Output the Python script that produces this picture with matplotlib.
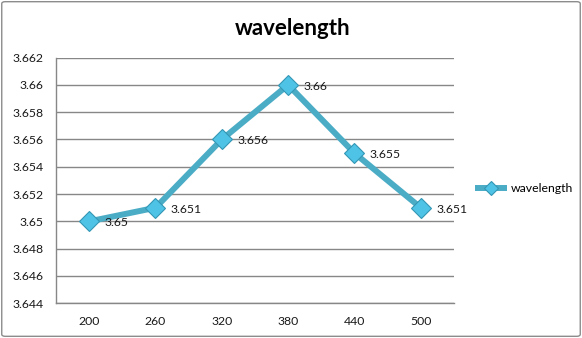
import matplotlib
matplotlib.use("Agg")
import matplotlib.pyplot as plt
from matplotlib.patches import FancyBboxPatch

plt.rcParams['font.family'] = ['Lato', 'DejaVu Sans']

categories = ['200', '260', '320', '380', '440', '500']
wavelength = [3.650, 3.651, 3.656, 3.660, 3.655, 3.651]
value_labels = ['3.65', '3.651', '3.656', '3.66', '3.655', '3.651']
y_ticks = [3.644, 3.646, 3.648, 3.650, 3.652, 3.654, 3.656, 3.658, 3.660, 3.662]
y_tick_labels = ['3.644', '3.646', '3.648', '3.65', '3.652', '3.654',
                 '3.656', '3.658', '3.66', '3.662']

line_color = '#4BACC6'
grid_color = '#878787'

fig = plt.figure(figsize=(5.82, 3.38), dpi=100)
ax = fig.add_axes([0.0962, 0.1027, 0.6838, 0.7269])

x = list(range(len(categories)))
ax.plot(x, wavelength, color=line_color, lw=4.3, solid_capstyle='butt',
        marker='D', ms=10, mfc='#4FC3E6', mec='#3396B4', mew=0.8,
        label='wavelength', zorder=3)

for xi, yi, txt in zip(x, wavelength, value_labels):
    ax.annotate(txt, (xi, yi), xytext=(11, -1), textcoords='offset points',
                ha='left', va='center', fontsize=8.8, color='#1a1a1a')

ax.set_xlim(-0.5, len(categories) - 0.5)
ax.set_ylim(3.644, 3.662)
ax.set_xticks(x)
ax.set_xticklabels(categories)
ax.set_yticks(y_ticks)
ax.set_yticklabels(y_tick_labels)
ax.tick_params(axis='both', length=0, labelsize=8.8, colors='#1a1a1a')
ax.tick_params(axis='y', pad=9)
ax.tick_params(axis='x', pad=9)
ax.grid(axis='y', color=grid_color, lw=1)
ax.set_axisbelow(True)
for side in ['top', 'right']:
    ax.spines[side].set_visible(False)
for side in ['left', 'bottom']:
    ax.spines[side].set_color(grid_color)
    ax.spines[side].set_linewidth(1)

fig.text(0.503, 0.915, 'wavelength', ha='center', va='center',
         fontsize=16, fontweight='bold', color='black')

fig.legend(loc='center left', bbox_to_anchor=(0.797, 0.441), frameon=False,
           fontsize=8.8, handlelength=2.6, handletextpad=0.3, markerscale=0.7)

# outer chart border
fig.patches.append(FancyBboxPatch((0.003, 0.005), 0.994, 0.99,
                                  boxstyle='round,pad=0,rounding_size=0.006',
                                  transform=fig.transFigure, fill=False,
                                  ec='#8c8c8c', lw=1))

fig.savefig('out.png', dpi=100)
